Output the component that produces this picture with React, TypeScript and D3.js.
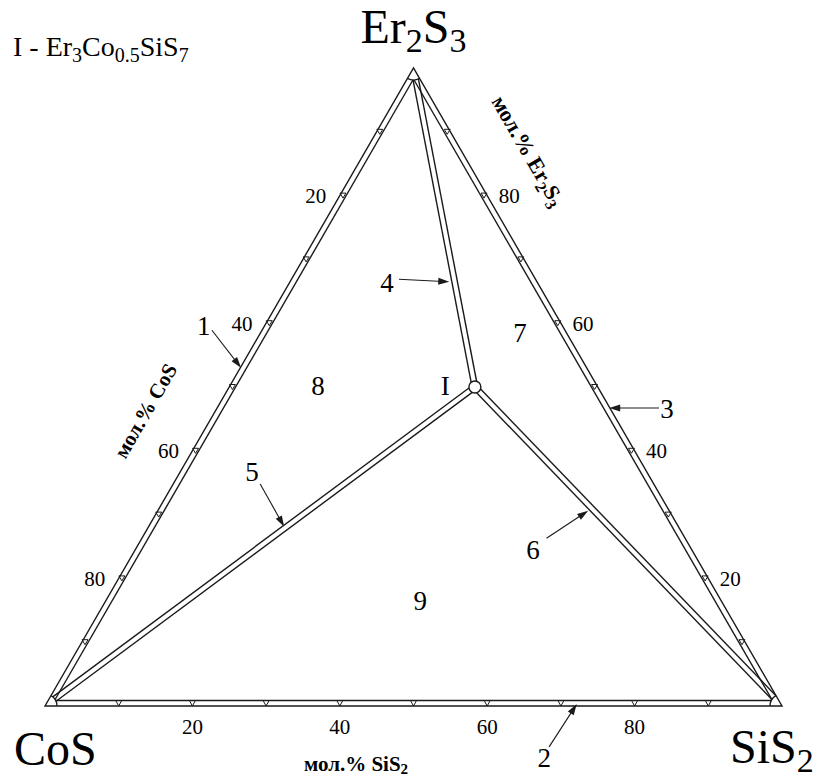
import React from 'react';
import * as d3 from 'd3';

// Ternary system CoS – SiS2 – Er2S3, compositions in mol.% [SiS2, Er2S3]
const tickValues = [10, 20, 30, 40, 50, 60, 70, 80, 90];
const tickLabelValues = [20, 40, 60, 80];
// compound I = Er3Co0.5SiS7 (1.5 Er2S3 + 0.5 CoS + 1 SiS2)
const compoundI = [33.33, 50];
const regionNames = ['7', '8', '9'];
const regionPos = [[35.2, 58.5], [11.9, 50.3], [42.6, 16.6]];
const calloutNames = ['1', '2', '3', '4', '5', '6'];
const calloutTextPos = [[-8.3, 59.7], [71.8, -8.15], [61.05, 46.7], [13.25, 66.3], [9.75, 36.7], [53.9, 24.6]];
const calloutFrom = [[-6.8, 58.9], [71.6, -6.4], [59.96, 46.7], [14.57, 66.9], [11.8, 34.8], [54.9, 26.3]];
const calloutTo = [[0.1, 53.0], [72.0, 0.3], [53.2, 46.7], [21.6, 66.5], [18.4, 28.1], [58.4, 30.6]];
const labelIPos = [29.2, 50.2];

const FONT = "'Liberation Serif', 'Times New Roman', serif";
const STROKE = '#1a1a1a';

type Pt = [number, number];

export default function App() {
  const xs = d3.scaleLinear().domain([0, 100]).range([45, 782]);
  const ys = d3.scaleLinear().domain([0, 100]).range([706, 68]);
  const P = (b: number, c: number): Pt => [xs(b + c / 2), ys(c)];
  const A = P(0, 0), B = P(100, 0), C = P(0, 100);
  const I = P(compoundI[0], compoundI[1]);
  const G: Pt = [(A[0] + B[0] + C[0]) / 3, (A[1] + B[1] + C[1]) / 3];
  const R = 12, BAND = 5.5, DBL = 2.75, RI = 6;
  const line = d3.line();

  const seg = (p: Pt, q: Pt, off: number, r1: number, r2: number, towardG: boolean): string => {
    const dx = q[0] - p[0], dy = q[1] - p[1];
    const L = Math.hypot(dx, dy);
    const u = [dx / L, dy / L];
    let n = [-u[1], u[0]];
    if (towardG && (n[0] * (G[0] - p[0]) + n[1] * (G[1] - p[1])) < 0) n = [-n[0], -n[1]];
    const t1 = Math.sqrt(Math.max(r1 * r1 - off * off, 0));
    const t2 = Math.sqrt(Math.max(r2 * r2 - off * off, 0));
    const s: Pt = [p[0] + u[0] * t1 + n[0] * off, p[1] + u[1] * t1 + n[1] * off];
    const e: Pt = [q[0] - u[0] * t2 + n[0] * off, q[1] - u[1] * t2 + n[1] * off];
    return line([s, e]) as string;
  };

  const cornerArc = (v: Pt, a: Pt, b: Pt): string => {
    const a0 = Math.atan2(a[1] - v[1], a[0] - v[0]);
    const a1 = Math.atan2(b[1] - v[1], b[0] - v[0]);
    let diff = a1 - a0;
    while (diff > Math.PI) diff -= 2 * Math.PI;
    while (diff < -Math.PI) diff += 2 * Math.PI;
    const p = d3.path();
    p.moveTo(v[0] + R * Math.cos(a0), v[1] + R * Math.sin(a0));
    p.arc(v[0], v[1], R, a0, a0 + diff, diff < 0);
    return p.toString();
  };

  const edges: [Pt, Pt][] = [[A, B], [B, C], [C, A]];
  const innerEdges = edges.map(([p, q]) => seg(p, q, BAND, R, R, true));
  const spokes = [A, B, C].flatMap(v => [seg(v, I, DBL, R, RI, false), seg(v, I, -DBL, R, RI, false)]);
  const arcs = [cornerArc(A, B, C), cornerArc(B, C, A), cornerArc(C, A, B)];

  const halfBandX = BAND / Math.sin(Math.PI / 3) / 2;
  const tri = (cx: number, cy: number, h: number, w: number) =>
    `M${cx - w / 2},${cy - h / 2}L${cx + w / 2},${cy - h / 2}L${cx},${cy + h / 2}Z`;
  const ticks: string[] = [];
  tickValues.forEach(v => {
    const pb = P(v, 0);
    ticks.push(tri(pb[0], pb[1] - BAND / 2, BAND, 6));
    const pl = P(0, v);
    ticks.push(tri(pl[0] + halfBandX, pl[1], 5, 6));
    const pr = P(100 - v, v);
    ticks.push(tri(pr[0] - halfBandX, pr[1], 5, 6));
  });

  const arrow = (from: Pt, to: Pt) => {
    const dx = to[0] - from[0], dy = to[1] - from[1];
    const L = Math.hypot(dx, dy);
    const u = [dx / L, dy / L], n = [-u[1], u[0]];
    const len = 11, hw = 3.5;
    const base: Pt = [to[0] - u[0] * len, to[1] - u[1] * len];
    const head = `M${to[0]},${to[1]}L${base[0] + n[0] * hw},${base[1] + n[1] * hw}L${base[0] - n[0] * hw},${base[1] - n[1] * hw}Z`;
    return { shaft: line([from, [to[0] - u[0] * 6, to[1] - u[1] * 6]]) as string, head };
  };

  const vFs = 48, subFs = 34;
  return (
    <svg width={817} height={778} style={{ position: 'absolute', left: 0, top: 0, background: '#fff' }}
      fontFamily={FONT}>
      <rect x={0} y={0} width={817} height={778} fill="#fff" />
      <path d={(line([A, B, C]) as string) + 'Z'} fill="none" stroke={STROKE} strokeWidth={1.4} strokeLinejoin="miter" />
      {innerEdges.map((d, i) => <path key={'ie' + i} d={d} fill="none" stroke={STROKE} strokeWidth={1.4} />)}
      {arcs.map((d, i) => <path key={'ar' + i} d={d} fill="none" stroke={STROKE} strokeWidth={1.3} />)}
      {spokes.map((d, i) => <path key={'sp' + i} d={d} fill="none" stroke={STROKE} strokeWidth={1.4} />)}
      {ticks.map((d, i) => <path key={'tk' + i} d={d} fill="none" stroke={STROKE} strokeWidth={1} />)}
      <circle cx={I[0]} cy={I[1]} r={RI} fill="#fff" stroke={STROKE} strokeWidth={1.4} />

      {/* tick labels */}
      {tickLabelValues.map(v => {
        const p = P(v, 0);
        return <text key={'bl' + v} x={p[0]} y={p[1] + 21} dy="0.35em" textAnchor="middle" fontSize={21}>{v}</text>;
      })}
      {tickLabelValues.map(v => {
        const p = P(0, 100 - v);
        return <text key={'ll' + v} x={p[0] - 24} y={p[1]} dy="0.35em" textAnchor="middle" fontSize={21}>{v}</text>;
      })}
      {tickLabelValues.map(v => {
        const p = P(100 - v, v);
        return <text key={'rl' + v} x={p[0] + 22} y={p[1]} dy="0.35em" textAnchor="middle" fontSize={21}>{v}</text>;
      })}

      {/* vertex labels */}
      <text x={C[0]} y={C[1] - 25} textAnchor="middle" fontSize={vFs}>
        Er<tspan dy={9} fontSize={subFs}>2</tspan><tspan dy={-9}>S</tspan><tspan dy={9} fontSize={subFs}>3</tspan>
      </text>
      <text x={A[0] - 31} y={A[1] + 59} fontSize={vFs}>CoS</text>
      <text x={B[0] - 52} y={B[1] + 57} fontSize={vFs}>
        SiS<tspan dy={9} fontSize={subFs}>2</tspan>
      </text>

      {/* legend of compound */}
      <text x={13} y={56} fontSize={28}>
        I - Er<tspan dy={6} fontSize={20}>3</tspan><tspan dy={-6}>Co</tspan><tspan dy={6} fontSize={20}>0.5</tspan><tspan dy={-6}>SiS</tspan><tspan dy={6} fontSize={20}>7</tspan>
      </text>

      {/* axis titles */}
      <text transform={`translate(${xs(13.6)},${ys(46.3)}) rotate(-60)`} textAnchor="middle" dy="0.35em" fontSize={21} fontWeight="bold">
        мол.% CoS
      </text>
      <text transform={`translate(${xs(65.6)},${ys(87)}) rotate(60)`} textAnchor="middle" dy="0.35em" fontSize={22} fontWeight="bold">
        мол.% Er<tspan dy={5} fontSize={16}>2</tspan><tspan dy={-5}>S</tspan><tspan dy={5} fontSize={16}>3</tspan>
      </text>
      <text x={356} y={A[1] + 65} textAnchor="middle" fontSize={21} fontWeight="bold">
        мол.% SiS<tspan dy={3} fontSize={15}>2</tspan>
      </text>

      {/* callouts */}
      {calloutNames.map((name, i) => {
        const tp = P(calloutTextPos[i][0], calloutTextPos[i][1]);
        const ar = arrow(P(calloutFrom[i][0], calloutFrom[i][1]), P(calloutTo[i][0], calloutTo[i][1]));
        return (
          <g key={'co' + name}>
            <text x={tp[0]} y={tp[1]} dy="0.35em" textAnchor="middle" fontSize={27}>{name}</text>
            <path d={ar.shaft} stroke={STROKE} strokeWidth={1.1} fill="none" />
            <path d={ar.head} fill={STROKE} stroke="none" />
          </g>
        );
      })}
      {regionNames.map((name, i) => {
        const p = P(regionPos[i][0], regionPos[i][1]);
        return <text key={'rg' + name} x={p[0]} y={p[1]} dy="0.35em" textAnchor="middle" fontSize={27}>{name}</text>;
      })}
      {(() => {
        const p = P(labelIPos[0], labelIPos[1]);
        return <text x={p[0]} y={p[1]} dy="0.35em" textAnchor="middle" fontSize={27}>I</text>;
      })()}
    </svg>
  );
}
